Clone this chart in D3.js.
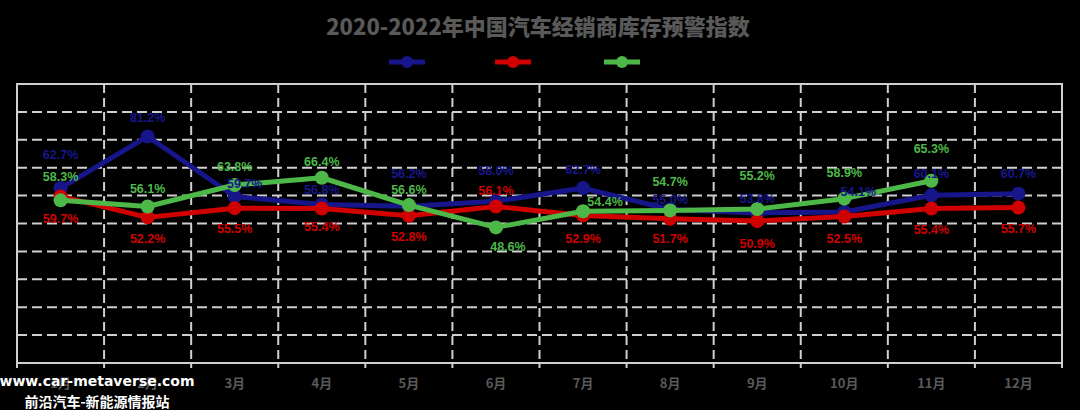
<!DOCTYPE html>
<html>
<head>
<meta charset="utf-8">
<script src="https://cdn.jsdelivr.net/npm/d3@7"></script>
<style>
html,body{margin:0;padding:0;background:#000;}
svg{display:block;}
</style>
</head>
<body>
<svg id="chart" width="1080" height="410"></svg>
<script>
// ---- data ----
const months = ["1月","2月","3月","4月","5月","6月","7月","8月","9月","10月","11月","12月"];
const seriesNames = ["2020年","2021年","2022年"];
const values2020 = [62.7, 81.2, 59.7, 56.8, 56.2, 58.0, 62.7, 55.0, 53.8, 54.1, 60.1, 60.7];
const values2021 = [59.7, 52.2, 55.5, 55.4, 52.8, 56.1, 52.9, 51.7, 50.9, 52.5, 55.4, 55.7];
const values2022 = [58.3, 56.1, 63.8, 66.4, 56.6, 48.6, 54.4, 54.7, 55.2, 58.9, 65.3];
const yTicks = [0, 10, 20, 30, 40, 50, 60, 70, 80, 90, 100];
const title = "2020-2022年中国汽车经销商库存预警指数";
const watermark = ["www.car-metaverse.com", "前沿汽车-新能源情报站"];

// ---- layout / style (not data) ----
const colors = ["#16168a", "#d00000", "#4db848"];
// label nudges [dx, dy] relative to point, per series
const labelNudge = [
  [[0,-33],[0,-18],[10,-12],[0,-15],[0,-32],[0,-30],[0,-18],[0,-10],[0,-14],[14,-20],[0,-21],[0,-20]],
  [[0,23],[0,22],[0,21],[0,19],[0,21],[0,-15],[0,24],[0,20],[0,23],[0,22],[0,22],[0,21]],
  [[0,-23],[0,-17],[0,-18],[0,-16],[0,-15],[12,20],[22,-9],[0,-28],[0,-33],[0,-26],[0,-32]]
];

const svg = d3.select("#chart");
const W = 1080, H = 410;
svg.append("rect").attr("width", W).attr("height", H).attr("fill", "#000");

const plot = {left: 17, right: 1062, top: 84, bottom: 363};
const x = d3.scaleBand().domain(months).range([plot.left, plot.right]).padding(0);
const y = d3.scaleLinear().domain([0, 100]).range([plot.bottom, plot.top]);

const gridColor = "#cfcfcf";

// horizontal dashed gridlines
svg.append("g").selectAll("line")
  .data(yTicks.slice(1, -1))
  .join("line")
  .attr("x1", plot.left).attr("x2", plot.right)
  .attr("y1", d => y(d)).attr("y2", d => y(d))
  .attr("stroke", gridColor).attr("stroke-width", 2)
  .attr("stroke-dasharray", "10,5");

// vertical dashed gridlines at category boundaries
svg.append("g").selectAll("line")
  .data(months.slice(1))
  .join("line")
  .attr("x1", d => x(d)).attr("x2", d => x(d))
  .attr("y1", plot.top).attr("y2", plot.bottom)
  .attr("stroke", gridColor).attr("stroke-width", 2)
  .attr("stroke-dasharray", "9,5");

// plot border
svg.append("rect")
  .attr("x", plot.left).attr("y", plot.top)
  .attr("width", plot.right - plot.left).attr("height", plot.bottom - plot.top)
  .attr("fill", "none").attr("stroke", gridColor).attr("stroke-width", 2);

// boundary tick marks below axis
svg.append("g").selectAll("line")
  .data(months.concat(["end"]))
  .join("line")
  .attr("x1", (d, i) => i < months.length ? x(d) : plot.right)
  .attr("x2", (d, i) => i < months.length ? x(d) : plot.right)
  .attr("y1", plot.bottom).attr("y2", plot.bottom + 5)
  .attr("stroke", gridColor).attr("stroke-width", 2);

// x axis labels
const xAxis = d3.axisBottom(x).tickSize(0).tickPadding(16);
const gx = svg.append("g").attr("transform", `translate(0,${plot.bottom})`).call(xAxis);
gx.select(".domain").remove();
gx.selectAll("text")
  .attr("fill", "#595959")
  .style("font-family", "'Noto Sans CJK SC', 'Liberation Sans', sans-serif")
  .style("font-size", "13px")
  .style("font-weight", "bold");

// title
svg.append("text")
  .attr("x", 538).attr("y", 35)
  .attr("text-anchor", "middle")
  .attr("fill", "#595959")
  .style("font-family", "'Noto Sans CJK SC', sans-serif")
  .style("font-size", "22px")
  .style("font-weight", "900")
  .text(title);

// legend
const legendX = [407, 513, 622];
const lg = svg.append("g").selectAll("g")
  .data(seriesNames)
  .join("g")
  .attr("transform", (d, i) => `translate(${legendX[i]},62)`);
lg.append("line").attr("x1", -18).attr("x2", 18).attr("y1", 0).attr("y2", 0)
  .attr("stroke", (d, i) => colors[i]).attr("stroke-width", 5);
lg.append("circle").attr("r", 6).attr("fill", (d, i) => colors[i]);
lg.append("text").attr("x", 24).attr("y", 5)
  .attr("fill", "#000")
  .style("font-family", "'Noto Sans CJK SC', sans-serif")
  .style("font-size", "13px")
  .text(d => d);

// series
const allSeries = [values2020, values2021, values2022];
const line = d3.line()
  .x((d, i) => x(months[i]) + x.bandwidth() / 2)
  .y(d => y(d));

allSeries.forEach((vals, si) => {
  const g = svg.append("g");
  g.append("path").datum(vals)
    .attr("d", line)
    .attr("fill", "none")
    .attr("stroke", colors[si])
    .attr("stroke-width", 5)
    .attr("stroke-linejoin", "round");
  g.selectAll("circle").data(vals).join("circle")
    .attr("cx", (d, i) => x(months[i]) + x.bandwidth() / 2)
    .attr("cy", d => y(d))
    .attr("r", 7)
    .attr("fill", colors[si]);
});

// data labels (drawn after all lines)
allSeries.forEach((vals, si) => {
  svg.append("g").selectAll("text").data(vals).join("text")
    .attr("x", (d, i) => x(months[i]) + x.bandwidth() / 2 + labelNudge[si][i][0])
    .attr("y", (d, i) => y(d) + labelNudge[si][i][1] + 4)
    .attr("text-anchor", "middle")
    .attr("fill", colors[si])
    .style("font-family", "'Liberation Sans', Arial, sans-serif")
    .style("font-size", "12.5px")
    .style("font-weight", "bold")
    .text(d => d.toFixed(1) + "%");
});

// watermark
svg.append("text")
  .attr("x", 97).attr("y", 386)
  .attr("text-anchor", "middle")
  .attr("fill", "#fff")
  .style("font-family", "'DejaVu Sans', sans-serif")
  .style("font-size", "14px")
  .style("font-weight", "bold")
  .text(watermark[0]);
svg.append("text")
  .attr("x", 97).attr("y", 407)
  .attr("text-anchor", "middle")
  .attr("fill", "#fff")
  .style("font-family", "'Noto Sans CJK SC', sans-serif")
  .style("font-size", "14px")
  .style("font-weight", "bold")
  .text(watermark[1]);
</script>
</body>
</html>
